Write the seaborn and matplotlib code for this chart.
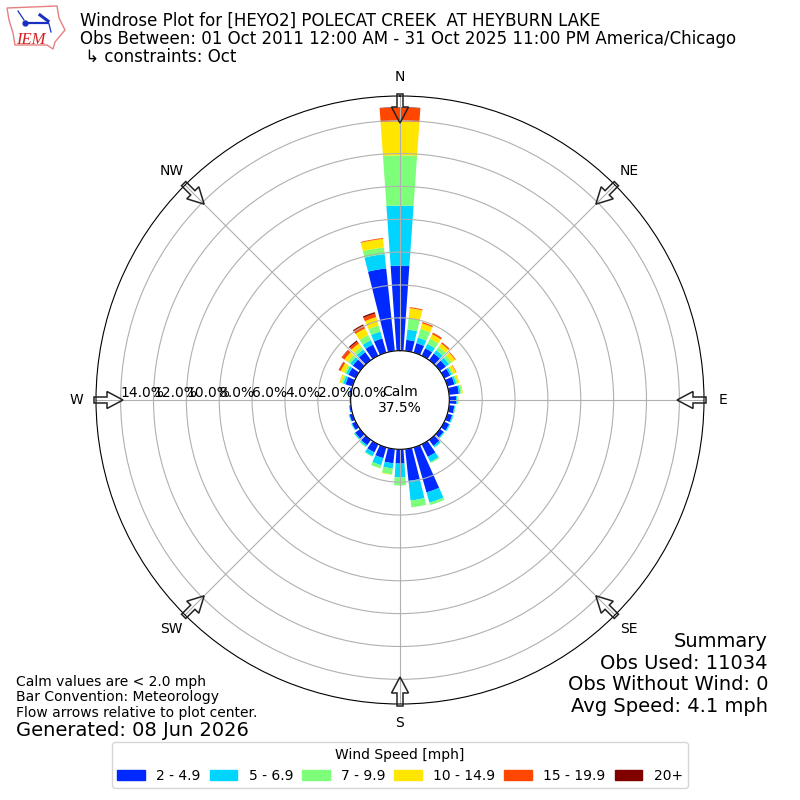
import numpy as np
import pandas as pd
import matplotlib
matplotlib.use('Agg')
import matplotlib.pyplot as plt
from matplotlib.patches import FancyArrow, Patch, Polygon
import seaborn as sns

# Wind direction of each bar, degrees clockwise from north
directions = list(range(0, 360, 10))

# Frequency (%) per speed bin, one value per direction
speed_2_5 = [5.17, 0.68, 0.60, 0.50, 0.50, 0.45, 0.40, 0.45, 0.60, 0.42, 0.32, 0.30,
             0.33, 0.28, 0.45, 0.85, 2.85, 1.95, 0.87, 0.87, 0.68, 0.55, 0.40, 0.37,
             0.25, 0.20, 0.10, 0.06, 0.10, 0.45, 0.50, 0.55, 0.60, 0.75, 0.90, 5.05]
speed_5_7 = [3.66, 0.63, 0.35, 0.30, 0.25, 0.25, 0.12, 0.12, 0.10, 0.08, 0.05, 0.07,
             0.07, 0.07, 0.12, 0.35, 0.65, 1.20, 0.83, 0.32, 0.45, 0.25, 0.10, 0.08,
             0.05, 0.04, 0.02, 0.01, 0.01, 0.15, 0.15, 0.20, 0.20, 0.30, 0.43, 0.88]
speed_7_10 = [3.06, 0.69, 0.55, 0.35, 0.25, 0.20, 0.10, 0.10, 0.08, 0.05, 0.03, 0.03,
              0.02, 0.02, 0.03, 0.07, 0.15, 0.42, 0.50, 0.36, 0.20, 0.05, 0.06, 0.03,
              0.02, 0.02, 0.01, 0.00, 0.00, 0.12, 0.12, 0.18, 0.20, 0.35, 0.39, 0.40]
speed_10_15 = [2.06, 0.62, 0.35, 0.30, 0.25, 0.25, 0.18, 0.10, 0.06, 0.02, 0.00, 0.00,
               0.00, 0.00, 0.00, 0.00, 0.00, 0.00, 0.00, 0.03, 0.00, 0.00, 0.00, 0.00,
               0.00, 0.00, 0.00, 0.00, 0.00, 0.10, 0.25, 0.25, 0.25, 0.45, 0.53, 0.53]
speed_15_20 = [0.84, 0.06, 0.08, 0.10, 0.08, 0.05, 0.03, 0.00, 0.00, 0.00, 0.00, 0.00,
               0.00, 0.00, 0.00, 0.00, 0.00, 0.00, 0.00, 0.00, 0.00, 0.00, 0.00, 0.00,
               0.00, 0.00, 0.00, 0.00, 0.00, 0.01, 0.12, 0.20, 0.15, 0.20, 0.22, 0.05]
speed_20_up = [0.03, 0.00, 0.00, 0.01, 0.01, 0.00, 0.00, 0.00, 0.00, 0.00, 0.00, 0.00,
               0.00, 0.00, 0.00, 0.00, 0.00, 0.00, 0.00, 0.00, 0.00, 0.00, 0.00, 0.00,
               0.00, 0.00, 0.00, 0.00, 0.00, 0.00, 0.02, 0.02, 0.08, 0.07, 0.09, 0.00]

speed_bins = [speed_2_5, speed_5_7, speed_7_10, speed_10_15, speed_15_20, speed_20_up]
speed_labels = ['2 - 4.9', '5 - 6.9', '7 - 9.9', '10 - 14.9', '15 - 19.9', '20+']
speed_colors = [plt.get_cmap('jet')(i / 6) for i in range(1, 7)]

# Radial scale and compass labels
radial_ticks = [0, 2, 4, 6, 8, 10, 12, 14]
compass_angles = [0, 45, 90, 135, 180, 225, 270, 315]
compass_labels = ['N', 'NE', 'E', 'SE', 'S', 'SW', 'W', 'NW']

title_text = ('Windrose Plot for [HEYO2] POLECAT CREEK  AT HEYBURN LAKE\n'
              'Obs Between: 01 Oct 2011 12:00 AM - 31 Oct 2025 11:00 PM America/Chicago\n'
              ' \u21b3 constraints: Oct')
summary_text = 'Summary\nObs Used: 11034\nObs Without Wind: 0\nAvg Speed: 4.1 mph'
notes_text = 'Calm values are < 2.0 mph\nBar Convention: Meteorology\nFlow arrows relative to plot center.'

fig = plt.figure(figsize=(8, 8), dpi=100)
ax = fig.add_axes([0.12, 0.12, 0.76, 0.76], projection='polar')
ax.set_theta_zero_location('N')
ax.set_theta_direction(-1)

# Stack the speed bins through seaborn's bar plot
df = pd.DataFrame({'theta': np.deg2rad(directions)})
bottom = np.zeros(len(directions))
for values, color in zip(speed_bins, speed_colors):
    df['freq'] = values
    sns.barplot(data=df, x='theta', y='freq', native_scale=True, color=color, saturation=1,
                width=0.8, errorbar=None, bottom=bottom, linewidth=0, ax=ax)
    bottom = bottom + np.array(values)

ax.set_xlabel('')
ax.set_ylabel('')
ax.set_rorigin(-3)
ax.set_rlim(0, 15.5)
ax.set_rlabel_position(270)
ax.set_yticks(radial_ticks)
ax.set_yticklabels([f'{t:.1f}%' for t in radial_ticks])
ax.set_xticks(np.deg2rad(compass_angles))
ax.set_xticklabels(compass_labels)
ax.grid(True)
ax.tick_params(axis='x', pad=3.5)

# Overlay in pixel coordinates for the arrows and logo
over = fig.add_axes([0, 0, 1, 1], facecolor='none')
over.set_xlim(0, 800)
over.set_ylim(800, 0)
over.axis('off')

for angle in compass_angles:
    rad = np.deg2rad(angle)
    sx, sy = np.sin(rad), -np.cos(rad)
    over.add_patch(FancyArrow(400 + 306 * sx, 400 + 306 * sy, -29 * sx, -29 * sy, width=6,
                              head_width=17, head_length=16, length_includes_head=True,
                              facecolor='none', edgecolor='#222222', linewidth=1.1))

# Rough copy of the IEM logo
iowa = [(7, 8), (57, 6), (59, 18), (65, 30), (55, 42), (53, 49), (47, 45), (15, 45), (13, 33), (9, 20)]
over.add_patch(Polygon(iowa, closed=True, facecolor='none', edgecolor='#e58080', linewidth=1))
over.plot([25, 48], [23, 23], color='#1a2fc0', linewidth=1.6)
over.plot([25], [23], 'o', color='#1a2fc0', markersize=3.5)
over.plot([40, 48], [15, 21], color='#1a2fc0', linewidth=2.2)
over.plot([18, 24], [11, 20], color='#1a2fc0', linewidth=0.9)
over.plot([49, 51], [24, 32], color='#1a2fc0', linewidth=0.9)
over.text(16, 44, 'IEM', color='#d62020', fontsize=12, family='Liberation Serif', style='italic')

fig.text(0.1, 0.985, title_text, fontsize=12, va='top', ha='left', linespacing=1.0)
fig.text(0.96, 0.105, summary_text, fontsize=14, va='bottom', ha='right', linespacing=1.17)
fig.text(0.02, 0.1, notes_text, fontsize=10, va='bottom', ha='left', linespacing=1.15)
fig.text(0.02, 0.0875, 'Generated: 08 Jun 2026', fontsize=14, va='center', ha='left')
fig.text(0.5, 0.5, 'Calm\n37.5%', fontsize=10, va='center', ha='center')

handles = [Patch(color=c, label=l) for c, l in zip(speed_colors, speed_labels)]
fig.legend(handles=handles, title='Wind Speed [mph]', ncol=6, loc='lower center',
           bbox_to_anchor=(0.5, 0.006), columnspacing=0.65)

fig.savefig('out.png', dpi=100)
